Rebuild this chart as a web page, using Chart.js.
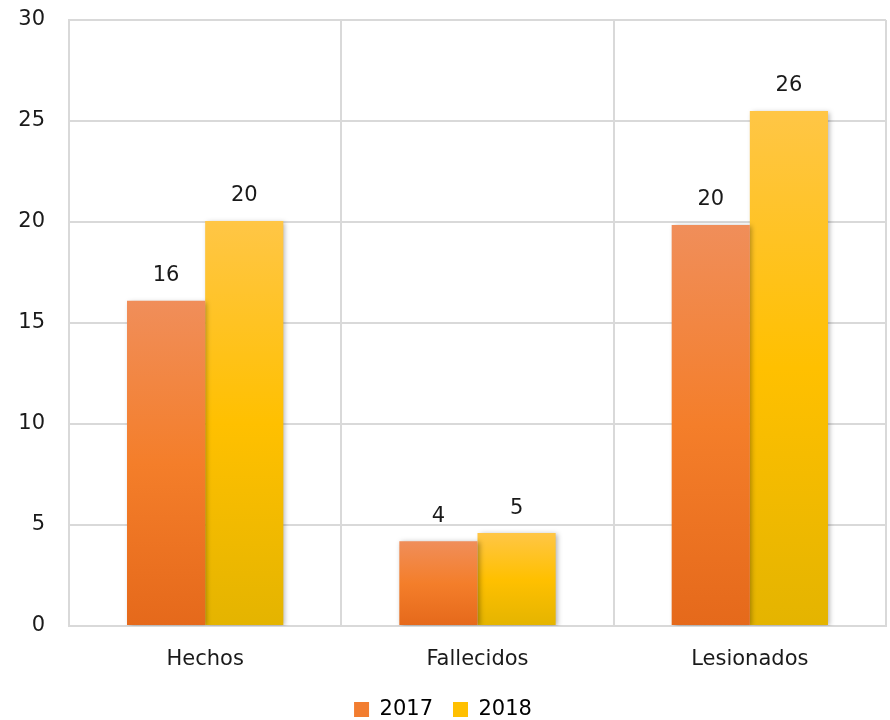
<!DOCTYPE html>
<html>
<head>
<meta charset="utf-8">
<script src="https://cdn.jsdelivr.net/npm/chart.js@4"></script>
<style>
  html, body { margin: 0; padding: 0; background: #fff; }
  #wrap { width: 890px; height: 720px; }
</style>
</head>
<body>
<div id="wrap"><canvas id="grafico"></canvas></div>
<script>
const categorias = ['Hechos', 'Fallecidos', 'Lesionados'];
const valores2017 = [16.1, 4.2, 19.85];
const valores2018 = [20.05, 4.6, 25.5];
const etiquetas2017 = ['16', '4', '20'];
const etiquetas2018 = ['20', '5', '26'];
const ticksY = [0, 5, 10, 15, 20, 25, 30];

const fuente = 'DejaVu Sans';
const tam = 21;

// degradado por barra, de la parte alta a la base
function colorBarra(arriba, medio, abajo) {
    return function (c) {
        const chart = c.chart;
        const y = chart.scales.y;
        if (!y || !c.parsed) return medio;
        const top = y.getPixelForValue(c.parsed.y);
        const base = y.getPixelForValue(0);
        if (!isFinite(top) || !isFinite(base) || top === base) return medio;
        const g = chart.ctx.createLinearGradient(0, top, 0, base);
        g.addColorStop(0, arriba);
        g.addColorStop(0.5, medio);
        g.addColorStop(1, abajo);
        return g;
    };
}

const sombraBarras = {
    id: 'sombraBarras',
    beforeDatasetsDraw(chart) {
        const ctx = chart.ctx;
        ctx.save();
        ctx.shadowColor = 'rgba(0,0,0,0.3)';
        ctx.shadowBlur = 5;
        ctx.shadowOffsetX = 2;
        ctx.shadowOffsetY = 1;
    },
    afterDatasetsDraw(chart) {
        chart.ctx.restore();
    }
};

const etiquetasValor = {
    id: 'etiquetasValor',
    afterDatasetsDraw(chart) {
        const ctx = chart.ctx;
        ctx.save();
        ctx.font = tam + 'px "' + fuente + '"';
        ctx.fillStyle = '#1a1a1a';
        ctx.textAlign = 'center';
        ctx.textBaseline = 'middle';
        chart.data.datasets.forEach((ds, i) => {
            chart.getDatasetMeta(i).data.forEach((bar, j) => {
                ctx.fillText(ds.etiquetas[j], bar.x, bar.y - 25);
            });
        });
        ctx.restore();
    }
};

new Chart(document.getElementById('grafico').getContext('2d'), {
    type: 'bar',
    data: {
        labels: categorias,
        datasets: [{
            label: '2017',
            data: valores2017,
            etiquetas: etiquetas2017,
            backgroundColor: colorBarra('#f08e5a', '#f47e2a', '#e5691b'),
            borderWidth: 0
        }, {
            label: '2018',
            data: valores2018,
            etiquetas: etiquetas2018,
            backgroundColor: colorBarra('#ffc646', '#ffc000', '#e4b400'),
            borderWidth: 0
        }]
    },
    options: {
        responsive: true,
        maintainAspectRatio: false,
        animation: false,
        datasets: {
            bar: { categoryPercentage: 0.574, barPercentage: 1.0 }
        },
        layout: { padding: { top: 20, right: 4, left: 0, bottom: -10 } },
        plugins: {
            legend: {
                position: 'bottom',
                labels: {
                    font: { family: fuente, size: tam },
                    color: '#1a1a1a',
                    boxWidth: 15,
                    boxHeight: 15,
                    padding: 20,
                    generateLabels(chart) {
                        const colores = ['#f27d30', '#ffc000'];
                        return chart.data.datasets.map((ds, i) => ({
                            text: ds.label,
                            fillStyle: colores[i],
                            strokeStyle: colores[i],
                            lineWidth: 0,
                            datasetIndex: i
                        }));
                    }
                }
            },
            tooltip: { enabled: false }
        },
        scales: {
            x: {
                afterFit(scale) { scale.height = 53; },
                grid: { color: '#d9d9d9', lineWidth: 2, offset: true, drawTicks: false },
                border: { color: '#d9d9d9', width: 2 },
                ticks: {
                    font: { family: fuente, size: tam },
                    color: '#1a1a1a',
                    padding: 21
                }
            },
            y: {
                min: 0,
                max: 30,
                afterBuildTicks(scale) {
                    scale.ticks = ticksY.map(v => ({ value: v }));
                },
                afterFit(scale) {
                    scale.width = 69;
                    scale.paddingTop = 0;
                    scale.paddingBottom = 0;
                },
                grid: { color: '#d9d9d9', lineWidth: 2, drawTicks: false },
                border: { color: '#d9d9d9', width: 2 },
                ticks: {
                    font: { family: fuente, size: tam },
                    color: '#1a1a1a',
                    padding: 24
                }
            }
        }
    },
    plugins: [sombraBarras, etiquetasValor]
});
</script>
</body>
</html>
